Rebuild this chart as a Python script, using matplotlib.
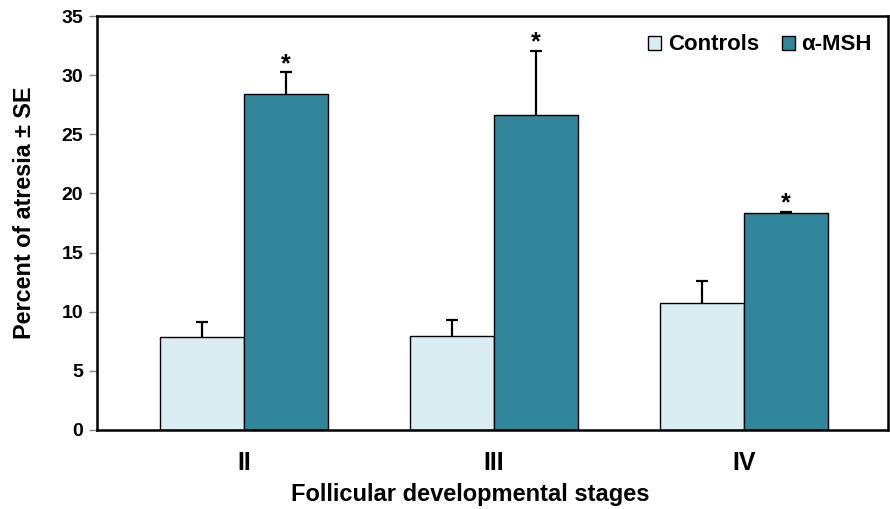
import matplotlib
matplotlib.use("Agg")
import matplotlib.pyplot as plt
import numpy as np

stages = ["II", "III", "IV"]
controls = [7.9, 7.95, 10.75]
controls_se = [1.2, 1.35, 1.85]
msh = [28.38, 26.63, 18.37]
msh_se = [1.85, 5.4, 0.1]
signif = ["*", "*", "*"]
yticks = [0, 5, 10, 15, 20, 25, 30, 35]

plt.rcParams['font.family'] = ['Liberation Sans', 'DejaVu Sans']
plt.rcParams['font.weight'] = 'bold'

fig = plt.figure(figsize=(8.9, 5.09), dpi=100)
ax = fig.add_axes([97/890, 1-430/509, (888-97)/890, (430-16)/509])

x = np.arange(len(stages))
w = 0.336
c_ctrl = "#DAEDF3"
c_msh = "#31869B"
ax.bar(x - w/2, controls, w, color=c_ctrl, edgecolor="black", linewidth=1.0, label="Controls", zorder=2)
ax.bar(x + w/2, msh, w, color=c_msh, edgecolor="black", linewidth=1.0, label="α-MSH", zorder=2)

for xs, vals, errs in ((x - w/2, controls, controls_se), (x + w/2, msh, msh_se)):
    ax.errorbar(xs, vals, yerr=[np.zeros(len(vals)), errs], fmt="none",
                ecolor="black", elinewidth=1.6, capsize=0, zorder=3)
    ax.plot(xs, np.array(vals) + np.array(errs), linestyle="none", marker="_",
            markersize=9, markeredgewidth=1.6, color="black", zorder=3)

for xi, v, e, s in zip(x, msh, msh_se, signif):
    ax.annotate(s, (xi + w/2, v + e), xytext=(0, -2.5), textcoords="offset points",
                ha="center", va="bottom", fontsize=18, fontweight="bold")

ax.set_xlim(-0.588, 2.576)
ax.set_ylim(0, 35)
ax.set_yticks(yticks)
ax.set_xticks(x)
ax.set_xticklabels(stages, fontsize=18, fontweight="bold")
ax.tick_params(axis="x", length=0, pad=15)
ax.tick_params(axis="y", length=6, color="#888888", width=1, labelsize=14, pad=4)
for lab in ax.get_yticklabels():
    lab.set_fontweight("bold")
for sp in ax.spines.values():
    sp.set_linewidth(1.8)
    sp.set_color("black")

fig.text(470/890, 1-494/509, "Follicular developmental stages", fontsize=17,
         fontweight="bold", ha="center", va="center")
fig.text(25/890, 1-213/509, "Percent of atresia ± SE", fontsize=16.8,
         fontweight="bold", ha="center", va="center", rotation=90)

leg = fig.legend(loc="center right", bbox_to_anchor=(872/890, 1-45/509), frameon=False, ncol=2,
                 handlelength=0.6, handleheight=0.6, handletextpad=0.3, borderpad=0,
                 borderaxespad=0, columnspacing=1.0, prop={"weight": "bold", "size": 16})

fig.savefig("out.png", dpi=100)
